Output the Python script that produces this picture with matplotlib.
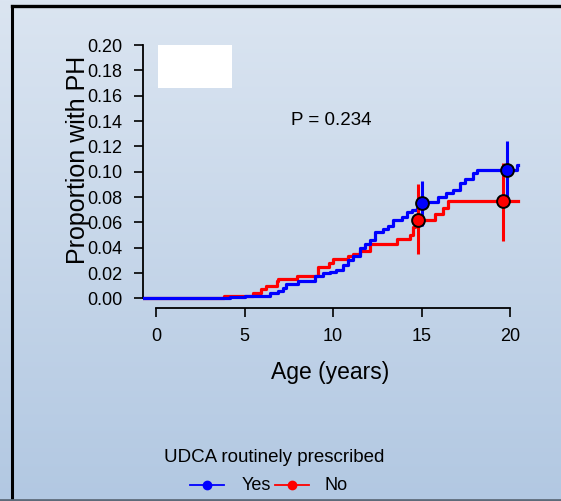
import numpy as np
import matplotlib
matplotlib.use("Agg")
import matplotlib.pyplot as plt
from matplotlib.lines import Line2D
from matplotlib.patches import Rectangle

plt.rcParams["font.family"] = ["Liberation Sans", "DejaVu Sans"]

# Cumulative incidence of PH by age, UDCA routinely prescribed = Yes
yes_age = [-0.8, 4.15, 5.0, 6.42, 6.89, 7.17, 7.36, 8.02, 8.96, 9.43, 9.81, 10.19,
           10.57, 10.85, 11.13, 11.51, 11.8, 12.08, 12.36, 12.83, 13.11, 13.4,
           13.87, 14.16, 14.44, 14.72, 14.9, 15.95, 16.4, 16.8, 17.17, 17.46,
           17.93, 18.15, 20.38, 20.44]
yes_prop = [0.0, 0.0008, 0.002, 0.004, 0.006, 0.008, 0.0115, 0.0138, 0.0178, 0.0199,
            0.021, 0.0225, 0.0264, 0.0304, 0.0335, 0.0396, 0.043, 0.046, 0.0527,
            0.055, 0.057, 0.062, 0.0645, 0.068, 0.070, 0.0716, 0.0765, 0.080, 0.083,
            0.0855, 0.091, 0.094, 0.0988, 0.1012, 0.1053, 0.1053]

# UDCA routinely prescribed = No
no_age = [-0.8, 3.83, 5.47, 5.94, 6.23, 6.8, 6.89, 7.93, 9.15, 9.76, 10.0, 10.85,
          11.13, 11.51, 12.08, 13.59, 14.34, 14.53, 14.63, 14.8, 15.76, 16.23,
          16.51, 20.48]
no_prop = [0.0, 0.0022, 0.0045, 0.0073, 0.0099, 0.0135, 0.0156, 0.0178, 0.0251,
           0.0283, 0.0312, 0.0336, 0.0351, 0.0375, 0.043, 0.0467, 0.050, 0.0567,
           0.060, 0.062, 0.0667, 0.0711, 0.077, 0.077]

# Point estimates with 95% confidence intervals at ages 15 and 20
yes_pt_age = [15.0, 19.86]
yes_pt = [0.0751, 0.101]
yes_lo = [0.057, 0.079]
yes_hi = [0.093, 0.124]

no_pt_age = [14.8, 19.63]
no_pt = [0.062, 0.077]
no_lo = [0.035, 0.0456]
no_hi = [0.090, 0.107]

x_ticks = [0, 5, 10, 15, 20]
y_ticks = [0.00, 0.02, 0.04, 0.06, 0.08, 0.10, 0.12, 0.14, 0.16, 0.18, 0.20]

legend_title = "UDCA routinely prescribed"
legend_labels = ["Yes", "No"]
colors = ["#0000ff", "#ff0000"]

W, H = 561, 501
fig = plt.figure(figsize=(W / 100, H / 100), dpi=100)


def px(x, y):
    return x / W, 1 - y / H


# Background gradient
bg = fig.add_axes([0, 0, 1, 1], zorder=-10)
grad = np.linspace(0, 1, 256).reshape(-1, 1)
top_c = np.array([219, 229, 241]) / 255
bot_c = np.array([178, 200, 226]) / 255
img = top_c[None, None, :] * (1 - grad[:, :, None]) + bot_c[None, None, :] * grad[:, :, None]
bg.imshow(img, aspect="auto", extent=[0, 1, 0, 1], origin="upper")
bg.set_xlim(0, 1)
bg.set_ylim(0, 1)
bg.axis("off")

# Frame lines
bg.add_line(Line2D([px(12, 0)[0], 1], [px(0, 6)[1]] * 2, color="black", lw=2.4))
bg.add_line(Line2D([px(12, 0)[0]] * 2, [px(0, 6)[1], 0], color="black", lw=2.2))
bg.add_line(Line2D([0, 1], [px(0, 500)[1]] * 2, color="#5d6b7a", lw=2.0))

# White box
bg.add_patch(Rectangle(px(158, 88), 74 / W, 43 / H, facecolor="white", edgecolor="none"))

# Main axes
left_px, right_px, top_px, bot_px = 142.5, 527.6, 35, 308
ax = fig.add_axes([left_px / W, 1 - bot_px / H, (right_px - left_px) / W, (bot_px - top_px) / H])
ax.patch.set_alpha(0)
ax.set_xlim(-0.78, 21.0)
ax.set_ylim(-0.0075, 0.2079)

ax.step(yes_age, yes_prop, where="post", color=colors[0], lw=2.3, zorder=3)
ax.step(no_age, no_prop, where="post", color=colors[1], lw=2.3, zorder=2)

ax.vlines(no_pt_age, no_lo, no_hi, color=colors[1], lw=2.2, zorder=4)
ax.vlines(yes_pt_age, yes_lo, yes_hi, color=colors[0], lw=2.2, zorder=5)
ax.plot(yes_pt_age, yes_pt, "o", ms=9.2, mfc=colors[0], mec="black", mew=1.4, zorder=7)
ax.plot(no_pt_age, no_pt, "o", ms=9.2, mfc=colors[1], mec="black", mew=1.4, zorder=6)

for s in ["top", "right"]:
    ax.spines[s].set_visible(False)
ax.spines["left"].set_bounds(0, 0.2)
ax.spines["bottom"].set_bounds(0, 20)
ax.spines["left"].set_linewidth(1.3)
ax.spines["bottom"].set_linewidth(1.3)

ax.set_xticks(x_ticks)
ax.set_xticklabels([str(t) for t in x_ticks])
ax.set_yticks(y_ticks)
ax.set_yticklabels([f"{t:.2f}" for t in y_ticks])
ax.tick_params(direction="out", length=6.5, width=1.2, labelsize=13, pad=8)
ax.tick_params(axis="x", pad=8)

fig.text(330 / W, 1 - 378.5 / H, "Age (years)", fontsize=16.5, ha="center", va="baseline")
fig.text(77.5 / W, 1 - 160 / H, "Proportion with PH", rotation=90, fontsize=18,
         ha="center", va="center")

fig.text(331 / W, 1 - 121 / H, "P = 0.234", fontsize=13.5, ha="center", va="center")

# Legend
fig.text(274 / W, 1 - 457 / H, legend_title, fontsize=13.5, ha="center", va="center")
entries = [(190, 224, 241.5), (274.5, 308.5, 325)]
for (x0, x1, xt), lab, col in zip(entries, legend_labels, colors):
    xs = [px(x0, 0)[0], px(x1, 0)[0]]
    yy = px(0, 485)[1]
    bg.add_line(Line2D(xs, [yy, yy], color=col, lw=1.3))
    bg.add_line(Line2D([sum(xs) / 2], [yy], marker="o", ms=6, color=col, mec=col))
    fig.text(px(xt, 0)[0], yy, lab, fontsize=13, ha="left", va="center")

fig.savefig("out.png", dpi=100)
